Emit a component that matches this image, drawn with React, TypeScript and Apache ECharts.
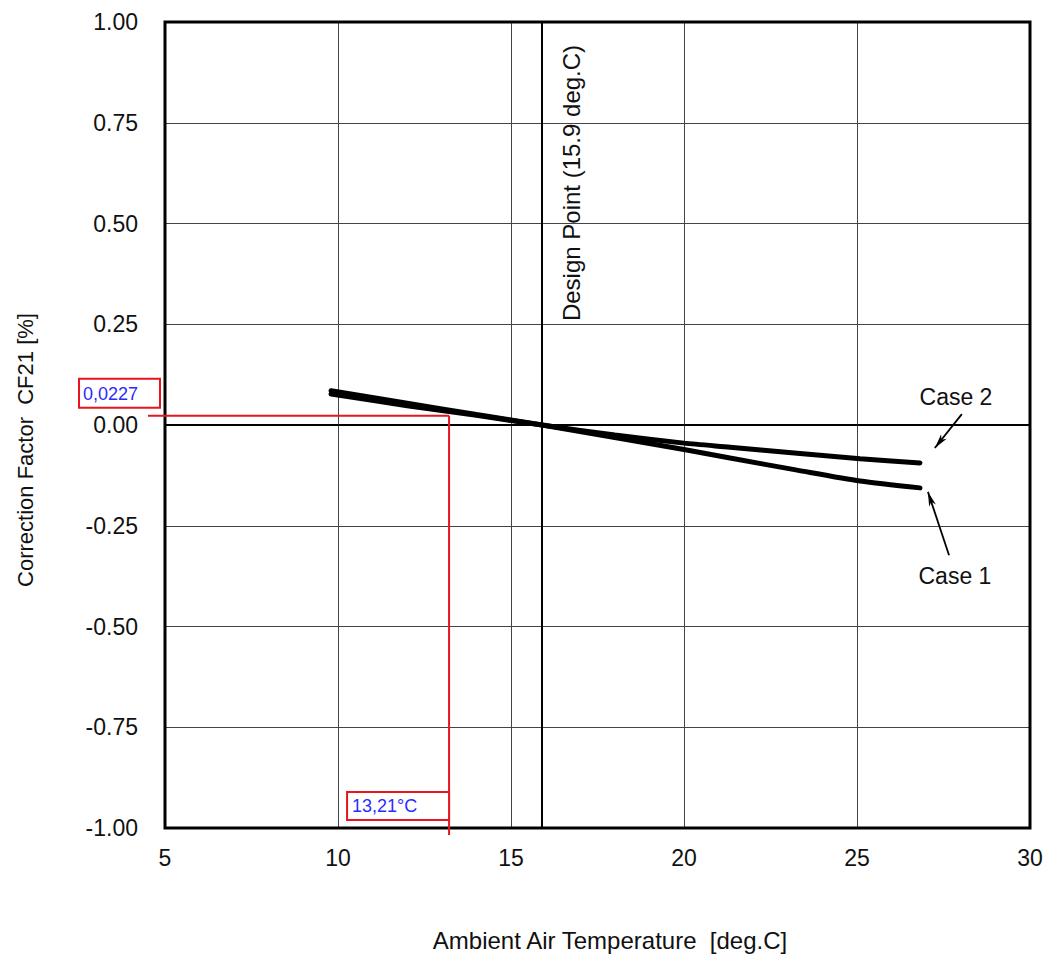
import React, { useEffect, useRef } from "react";
import * as echarts from "echarts";

// ---- data ----
const xMin = 5;
const xMax = 30;
const xStep = 5;
const yMin = -1;
const yMax = 1;
const yStep = 0.25;

const case1T = [9.8, 12, 14, 15.9, 18, 20, 21.33, 23.27, 25.09, 26.82];
const case1CF = [0.085, 0.054, 0.026, 0, -0.031, -0.061, -0.082, -0.112, -0.139, -0.156];
const case2T = [9.8, 12, 14, 15.9, 18, 20, 21.33, 23.27, 25.09, 26.82];
const case2CF = [0.077, 0.048, 0.024, 0, -0.025, -0.045, -0.055, -0.07, -0.084, -0.094];

const designPointT = 15.9;
const designLabel = "Design Point (15.9 deg.C)";
const readT = 13.21;
const readCF = 0.0227;
const readTLabel = "13,21°C";
const readCFLabel = "0,0227";

const caseLabels = ["Case 2", "Case 1"];
const caseLabelPos = [[27.86, 0.069], [27.83, -0.375]];
const caseArrowFrom = [[28.03, 0.027], [27.66, -0.323]];
const caseArrowTo = [[27.25, -0.057], [27.05, -0.166]];

const xTitle = "Ambient Air Temperature  [deg.C]";
const yTitle = "Correction Factor  CF21 [%]";

const FONT = "'Liberation Sans', Arial, sans-serif";

export default function App() {
  const ref = useRef<HTMLDivElement>(null);

  useEffect(() => {
    if (!ref.current) return;
    const chart = echarts.init(ref.current, null, { renderer: "svg" });
    const zip = (a: number[], b: number[]) => a.map((v, i) => [v, b[i]]);

    chart.setOption({
      animation: false,
      backgroundColor: "#ffffff",
      grid: {
        left: 165,
        right: 20,
        top: 22,
        bottom: 131,
        show: true,
        borderColor: "#000",
        borderWidth: 3,
        backgroundColor: "transparent",
        z: 3,
      },
      xAxis: {
        type: "value",
        min: xMin,
        max: xMax,
        interval: xStep,
        axisLine: { show: false },
        axisTick: { show: false },
        axisLabel: { fontSize: 23, color: "#111", fontFamily: FONT, margin: 18 },
        splitLine: { show: true, lineStyle: { color: "#444", width: 1 } },
      },
      yAxis: {
        type: "value",
        min: yMin,
        max: yMax,
        interval: yStep,
        axisLine: { show: false },
        axisTick: { show: false },
        axisLabel: {
          fontSize: 23,
          color: "#111",
          fontFamily: FONT,
          margin: 27,
          formatter: (v: number) => v.toFixed(2),
        },
        splitLine: { show: true, lineStyle: { color: "#444", width: 1 } },
      },
      series: [
        {
          name: "Case 1",
          type: "line",
          data: zip(case1T, case1CF),
          smooth: 0.25,
          symbol: "none",
          lineStyle: { color: "#000", width: 5, cap: "round" },
          z: 5,
          markLine: {
            silent: true,
            symbol: "none",
            label: { show: false },
            data: [
              { yAxis: 0, lineStyle: { color: "#000", width: 2, type: "solid" } },
              { xAxis: designPointT, lineStyle: { color: "#000", width: 2, type: "solid" } },
            ],
          },
        },
        {
          name: "Case 2",
          type: "line",
          data: zip(case2T, case2CF),
          smooth: 0.25,
          symbol: "none",
          lineStyle: { color: "#000", width: 5, cap: "round" },
          z: 5,
        },
      ],
    });

    const p = (x: number, y: number) =>
      chart.convertToPixel({ gridIndex: 0 }, [x, y]) as number[];

    const [rx, ry] = p(readT, readCF);
    const [, bottomY] = p(xMin, yMin);
    const [leftX, topY] = p(xMin, yMax);
    const [dx] = p(designPointT, 0);

    const red = "#e8141e";
    const blue = "#2b2bff";
    const graphics: any[] = [];

    // read-off lines
    graphics.push({
      type: "line",
      shape: { x1: leftX - 17, y1: ry, x2: rx, y2: ry },
      style: { stroke: red, lineWidth: 2 },
      z: 10,
    });
    graphics.push({
      type: "line",
      shape: { x1: rx, y1: ry, x2: rx, y2: bottomY + 7 },
      style: { stroke: red, lineWidth: 2 },
      z: 10,
    });
    // value boxes
    graphics.push({
      type: "rect",
      shape: { x: leftX - 86, y: ry - 37, width: 81, height: 29 },
      style: { fill: "#fff", stroke: red, lineWidth: 2 },
      z: 10,
    });
    graphics.push({
      type: "text",
      x: leftX - 82,
      y: ry - 22,
      style: { text: readCFLabel, fill: blue, fontSize: 18, fontFamily: FONT, verticalAlign: "middle", align: "left" },
      z: 11,
    });
    graphics.push({
      type: "rect",
      shape: { x: rx - 102, y: bottomY - 36, width: 102, height: 28 },
      style: { fill: "#fff", stroke: red, lineWidth: 2 },
      z: 10,
    });
    graphics.push({
      type: "text",
      x: rx - 97,
      y: bottomY - 22,
      style: { text: readTLabel, fill: blue, fontSize: 18, fontFamily: FONT, verticalAlign: "middle", align: "left" },
      z: 11,
    });

    // design point label
    graphics.push({
      type: "text",
      x: dx + 29,
      y: topY + 161,
      rotation: Math.PI / 2,
      style: { text: designLabel, fill: "#111", fontSize: 24, fontFamily: FONT, align: "center", verticalAlign: "middle" },
      z: 11,
    });

    // case labels and arrows
    caseLabels.forEach((lab, i) => {
      const [tx, ty] = p(caseLabelPos[i][0], caseLabelPos[i][1]);
      graphics.push({
        type: "text",
        x: tx,
        y: ty,
        style: { text: lab, fill: "#111", fontSize: 23, fontFamily: FONT, align: "center", verticalAlign: "middle" },
        z: 11,
      });
      const [x1, y1] = p(caseArrowFrom[i][0], caseArrowFrom[i][1]);
      const [x2, y2] = p(caseArrowTo[i][0], caseArrowTo[i][1]);
      graphics.push({
        type: "line",
        shape: { x1, y1, x2, y2 },
        style: { stroke: "#000", lineWidth: 1.8 },
        z: 11,
      });
      const ang = Math.atan2(y2 - y1, x2 - x1);
      const len = 15;
      const half = 0.24;
      graphics.push({
        type: "polygon",
        shape: {
          points: [
            [x2, y2],
            [x2 - len * Math.cos(ang - half), y2 - len * Math.sin(ang - half)],
            [x2 - len * 0.7 * Math.cos(ang), y2 - len * 0.7 * Math.sin(ang)],
            [x2 - len * Math.cos(ang + half), y2 - len * Math.sin(ang + half)],
          ],
        },
        style: { fill: "#000" },
        z: 11,
      });
    });

    // axis titles
    graphics.push({
      type: "text",
      x: 610,
      y: 940,
      style: { text: xTitle, fill: "#111", fontSize: 24, fontFamily: FONT, align: "center", verticalAlign: "middle" },
    });
    graphics.push({
      type: "text",
      x: 25,
      y: 450,
      rotation: Math.PI / 2,
      style: { text: yTitle, fill: "#111", fontSize: 22, fontFamily: FONT, align: "center", verticalAlign: "middle" },
    });

    chart.setOption({ graphic: graphics });

    return () => chart.dispose();
  }, []);

  return (
    <div
      ref={ref}
      style={{ position: "fixed", left: 0, top: 0, width: 1050, height: 959, background: "#fff" }}
    />
  );
}
